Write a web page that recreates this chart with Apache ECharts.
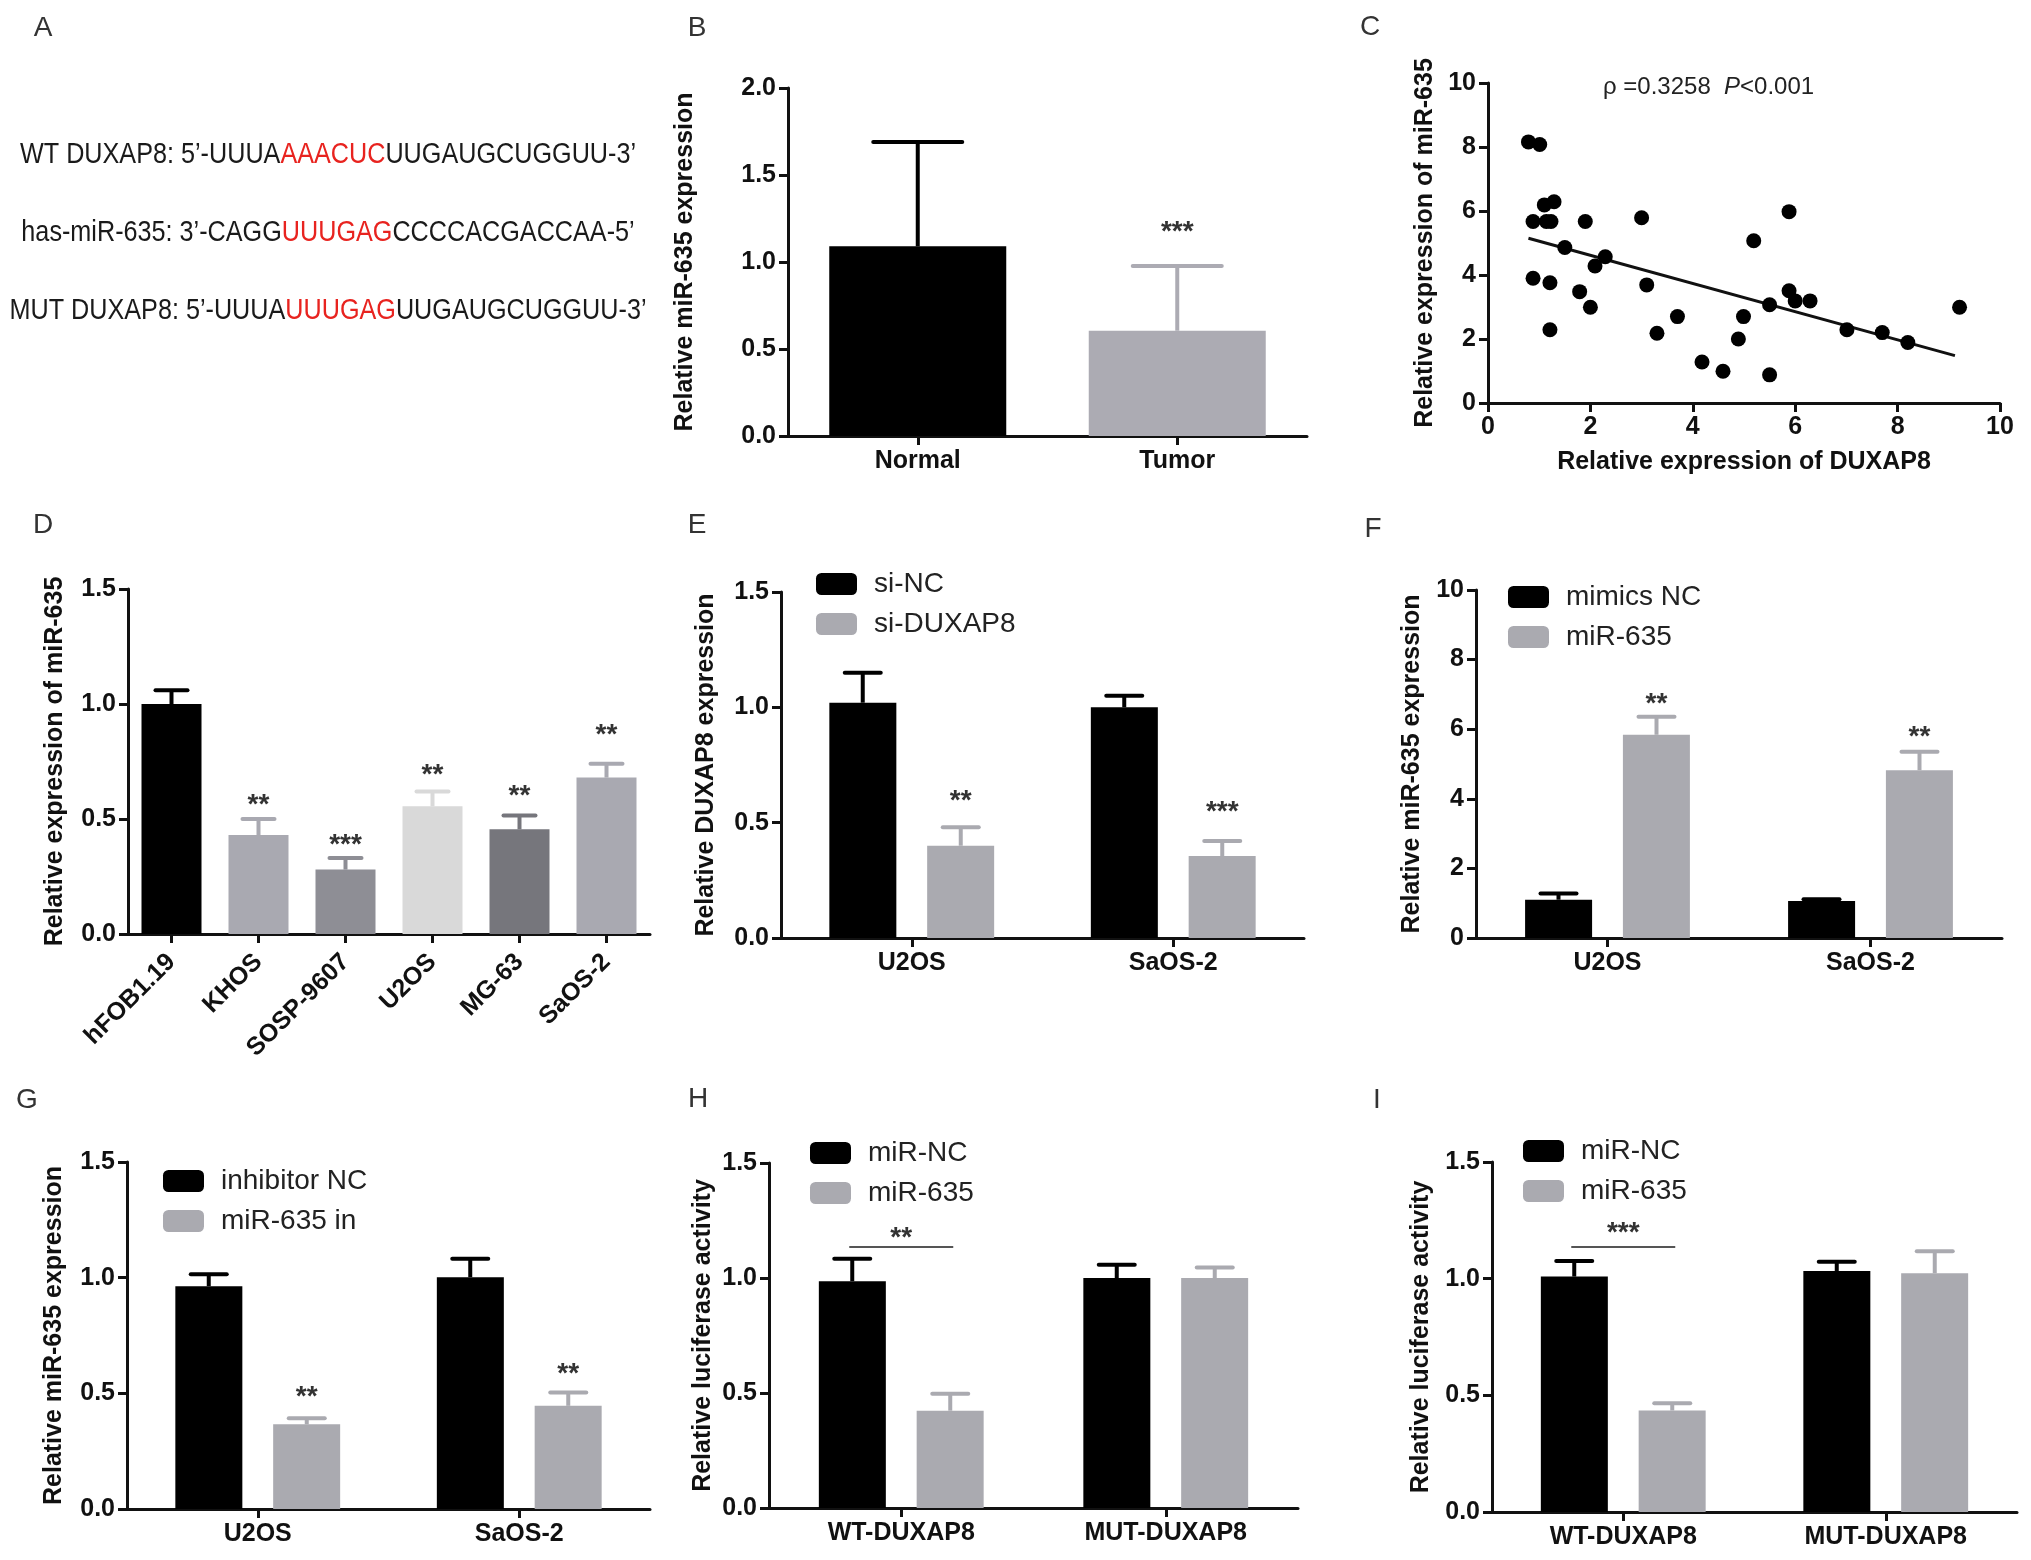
<!DOCTYPE html>
<html>
<head>
<meta charset="UTF-8">
<title>DUXAP8 / miR-635</title>
<script src="https://cdn.jsdelivr.net/npm/echarts@6.0.0/dist/echarts.min.js"></script>
<style>
    html, body { margin: 0; padding: 0; background: #ffffff; }
    #main { width: 2031px; height: 1560px; }
</style>
</head>
<body>
<div id="main"></div>
<script>
var FONT = '"Liberation Sans", Arial, Helvetica, sans-serif';
var INK = '#111111';
var BLACK = '#000000';
var GRAY = '#aaaab0';

// A: binding site sequences, [before, red part, after]
var seqLines = [
    ['WT DUXAP8: 5’-UUUA', 'AAACUC', 'UUGAUGCUGGUU-3’'],
    ['has-miR-635: 3’-CAGG', 'UUUGAG', 'CCCCACGACCAA-5’'],
    ['MUT DUXAP8: 5’-UUUA', 'UUUGAG', 'UUGAUGCUGGUU-3’']
];

// B: tissue
var bCats = ['Normal', 'Tumor'];
var bMean = [1.09, 0.605];
var bTop = [1.69, 0.977];
var bMarks = ['', '***'];
var bMarkAt = [null, 1.21];

// C: correlation
var cPoints = [
    [0.79, 8.16], [1.01, 8.08], [0.88, 5.67], [1.10, 6.19], [1.29, 6.29],
    [1.14, 5.67], [1.23, 5.67], [1.90, 5.67], [1.50, 4.86], [0.88, 3.90],
    [1.21, 3.76], [1.21, 2.29], [1.79, 3.48], [2.00, 2.99], [2.09, 4.28],
    [2.29, 4.57], [3.00, 5.79], [3.10, 3.69], [3.30, 2.18], [3.70, 2.70],
    [4.18, 1.28], [4.59, 0.99], [4.89, 2.00], [4.99, 2.70], [5.19, 5.07],
    [5.50, 3.07], [5.50, 0.88], [5.88, 5.98], [5.88, 3.51], [6.00, 3.19],
    [6.29, 3.19], [7.01, 2.29], [7.70, 2.20], [8.20, 1.89], [9.21, 2.99]
];
var cFit = [[0.79, 5.15], [9.12, 1.48]];
var cNote = ['ρ =0.3258  ', 'P', '<0.001'];

// D: cell lines
var dCats = ['hFOB1.19', 'KHOS', 'SOSP-9607', 'U2OS', 'MG-63', 'SaOS-2'];
var dMean = [1.00, 0.43, 0.28, 0.555, 0.455, 0.68];
var dTop = [1.06, 0.50, 0.33, 0.62, 0.515, 0.74];
var dMarks = ['', '**', '***', '**', '**', '**'];
var dMarkAt = [null, 0.59, 0.415, 0.72, 0.63, 0.895];
var dColors = ['#000000', '#a9a9b1', '#8e8e95', '#d9d9d9', '#76767c', '#a9a9b1'];

// E: knockdown
var cellCats = ['U2OS', 'SaOS-2'];
var eNames = ['si-NC', 'si-DUXAP8'];
var eMean = [[1.02, 1.00], [0.40, 0.355]];
var eTop = [[1.15, 1.05], [0.48, 0.42]];
var eMarks = ['**', '***'];
var eMarkAt = [0.625, 0.575];

// F: mimics
var fNames = ['mimics NC', 'miR-635'];
var fMean = [[1.10, 1.06], [5.84, 4.82]];
var fTop = [[1.28, 1.11], [6.36, 5.35]];
var fMarks = ['**', '**'];
var fMarkAt = [6.93, 5.97];

// G: inhibitor
var gNames = ['inhibitor NC', 'miR-635 in'];
var gMean = [[0.963, 1.002], [0.366, 0.446]];
var gTop = [[1.015, 1.082], [0.392, 0.504]];
var gMarks = ['**', '**'];
var gMarkAt = [0.514, 0.612];

// H, I: luciferase
var lucCats = ['WT-DUXAP8', 'MUT-DUXAP8'];
var lucNames = ['miR-NC', 'miR-635'];
var hMean = [[0.986, 1.00], [0.423, 1.00]];
var hTop = [[1.084, 1.058], [0.497, 1.046]];
var hSig = {cat: 0, level: 1.135, mark: '**', markAt: 1.203};
var iMean = [[1.009, 1.033], [0.435, 1.023]];
var iTop = [[1.076, 1.073], [0.466, 1.118]];
var iSig = {cat: 0, level: 1.136, mark: '***', markAt: 1.226};

var grids = [], xAxes = [], yAxes = [], series = [], legends = [], graphics = [];

function boldText(size) {
    return {color: INK, fontFamily: FONT, fontWeight: 'bold', fontSize: size};
}

function addGrid(left, top, width, height) {
    grids.push({left: left, top: top, width: width, height: height, outerBoundsMode: 'none', containLabel: false});
    return grids.length - 1;
}

function catAxis(gi, cats, rotate, margin) {
    var lbl = boldText(25);
    lbl.interval = 0;
    lbl.rotate = rotate || 0;
    lbl.margin = margin || 13;
    xAxes.push({
        type: 'category', gridIndex: gi, data: cats,
        axisLine: {show: true, lineStyle: {color: INK, width: 3}},
        axisTick: {show: true, alignWithLabel: true, length: 9, lineStyle: {color: INK, width: 3}},
        axisLabel: lbl
    });
}

function valAxis(list, gi, max, step, dec, name, gap) {
    var lbl = boldText(25);
    lbl.margin = 12;
    lbl.formatter = function (v) { return v.toFixed(dec); };
    list.push({
        type: 'value', gridIndex: gi, min: 0, max: max, interval: step,
        name: name, nameLocation: 'middle', nameGap: gap,
        nameTextStyle: boldText(25),
        axisLine: {show: true, lineStyle: {color: INK, width: 3}},
        axisTick: {show: true, length: 9, lineStyle: {color: INK, width: 3}},
        splitLine: {show: false},
        axisLabel: lbl
    });
}

function bars(gi, name, vals, colors, width, gap) {
    series.push({
        type: 'bar', name: name, xAxisIndex: gi, yAxisIndex: gi, z: 2, silent: true,
        barWidth: width, barGap: gap,
        itemStyle: {color: colors[0]},
        data: vals.map(function (v, i) {
            return {value: v, itemStyle: {color: colors[i % colors.length]}};
        })
    });
}

function errorBars(gi, means, tops, colors, shift, cap) {
    series.push({
        type: 'custom', xAxisIndex: gi, yAxisIndex: gi, z: 3, silent: true,
        data: means.map(function (m, i) { return [i, m, tops[i]]; }),
        renderItem: function (params, api) {
            var i = api.value(0);
            var a = api.coord([i, api.value(1)]);
            var b = api.coord([i, api.value(2)]);
            var x = a[0] + shift;
            var c = colors[i % colors.length];
            return {type: 'group', children: [
                {type: 'line', shape: {x1: x, y1: a[1], x2: x, y2: b[1]}, style: {stroke: c, lineWidth: 4}},
                {type: 'line', shape: {x1: x - cap / 2, y1: b[1], x2: x + cap / 2, y2: b[1]},
                    style: {stroke: c, lineWidth: 4, lineCap: 'round'}}
            ]};
        }
    });
}

function marks(gi, at, texts, shift) {
    var pts = [];
    texts.forEach(function (t, i) { if (t) pts.push({i: i, v: at[i], t: t}); });
    series.push({
        type: 'custom', xAxisIndex: gi, yAxisIndex: gi, z: 4, silent: true,
        data: pts.map(function (p) { return [p.i, p.v]; }),
        renderItem: function (params, api) {
            var p = api.coord([api.value(0), api.value(1)]);
            return {type: 'text', x: p[0] + shift, y: p[1] + 7, style: {
                text: pts[params.dataIndex].t, fill: '#333333', fontFamily: FONT, fontWeight: 'bold', fontSize: 28,
                align: 'center', verticalAlign: 'middle', textAlign: 'center', textVerticalAlign: 'middle'
            }};
        }
    });
}

function sigLine(gi, sig, half) {
    series.push({
        type: 'custom', xAxisIndex: gi, yAxisIndex: gi, z: 4, silent: true,
        data: [[sig.cat, sig.level, sig.markAt]],
        renderItem: function (params, api) {
            var p = api.coord([api.value(0), api.value(1)]);
            var q = api.coord([api.value(0), api.value(2)]);
            return {type: 'group', children: [
                {type: 'line', shape: {x1: p[0] - half, y1: p[1], x2: p[0] + half, y2: p[1]},
                    style: {stroke: '#555555', lineWidth: 2}},
                {type: 'text', x: p[0], y: q[1] + 7, style: {
                    text: sig.mark, fill: '#333333', fontFamily: FONT, fontWeight: 'bold', fontSize: 28,
                    align: 'center', verticalAlign: 'middle', textAlign: 'center', textVerticalAlign: 'middle'
                }}
            ]};
        }
    });
}

function legend(names, left, top) {
    legends.push({
        data: names, left: left, top: top, orient: 'vertical', padding: 0,
        itemGap: 12, itemWidth: 41, itemHeight: 22, icon: 'roundRect', selectedMode: false,
        textStyle: {color: '#222222', fontFamily: FONT, fontSize: 28, lineHeight: 28, padding: [0, 0, 0, 12]}
    });
}

// two-group bar panel (E, F, G, H, I)
function groupPanel(box, cats, names, means, tops, yMax, yStep, dec, yName, gap, legendPos) {
    var gi = addGrid(box[0], box[1], box[2], box[3]);
    catAxis(gi, cats);
    valAxis(yAxes, gi, yMax, yStep, dec, yName, gap);
    var bw = 67, half = 49;
    bars(gi, names[0], means[0], [BLACK], bw, '46%');
    bars(gi, names[1], means[1], [GRAY], bw, '46%');
    errorBars(gi, means[0], tops[0], [BLACK], -half, 36);
    errorBars(gi, means[1], tops[1], [GRAY], half, 36);
    legend(names, legendPos[0], legendPos[1]);
    return gi;
}

// B
var gB = addGrid(788, 88, 519, 348);
catAxis(gB, bCats);
valAxis(yAxes, gB, 2, 0.5, 1, 'Relative miR-635 expression', 90);
bars(gB, 'tissue', bMean, [BLACK, '#acabb3'], 177);
errorBars(gB, bMean, bTop, [BLACK, '#acabb3'], 0, 89);
marks(gB, bMarkAt, bMarks, 0);

// C
var gC = addGrid(1488, 83, 512, 320);
valAxis(xAxes, gC, 10, 2, 0, 'Relative expression of DUXAP8', 47);
valAxis(yAxes, gC, 10, 2, 0, 'Relative expression of miR-635', 50);
series.push({
    type: 'scatter', xAxisIndex: gC, yAxisIndex: gC, silent: true, z: 3,
    symbolSize: 15, itemStyle: {color: BLACK, opacity: 1}, data: cPoints
});
series.push({
    type: 'line', xAxisIndex: gC, yAxisIndex: gC, silent: true, z: 2,
    showSymbol: false, lineStyle: {color: INK, width: 3}, data: cFit
});

// D
var gD = addGrid(128, 589, 522, 345);
catAxis(gD, dCats, 45, 24);
valAxis(yAxes, gD, 1.5, 0.5, 1, 'Relative expression of miR-635', 60);
bars(gD, 'cells', dMean, dColors, 60);
errorBars(gD, dMean, dTop, dColors, 0, 32);
marks(gD, dMarkAt, dMarks, 0);

// E - I
var gE = groupPanel([781, 592, 523, 346], cellCats, eNames, eMean, eTop, 1.5, 0.5, 1,
    'Relative DUXAP8 expression', 62, [816, 570]);
marks(gE, eMarkAt, eMarks, 49);
var gF = groupPanel([1476, 590, 526, 348], cellCats, fNames, fMean, fTop, 10, 2, 0,
    'Relative miR-635 expression', 51, [1508, 583]);
marks(gF, fMarkAt, fMarks, 49);
var gG = groupPanel([127, 1162, 523, 347], cellCats, gNames, gMean, gTop, 1.5, 0.5, 1,
    'Relative miR-635 expression', 60, [163, 1167]);
marks(gG, gMarkAt, gMarks, 49);
var gH = groupPanel([769, 1163, 529, 345], lucCats, lucNames, hMean, hTop, 1.5, 0.5, 1,
    'Relative luciferase activity', 53, [810, 1139]);
sigLine(gH, hSig, 52);
var gI = groupPanel([1492, 1162, 525, 350], lucCats, lucNames, iMean, iTop, 1.5, 0.5, 1,
    'Relative luciferase activity', 58, [1523, 1137]);
sigLine(gI, iSig, 52);

// panel letters
var letters = [['A', 43, 28], ['B', 697, 28], ['C', 1370, 27], ['D', 43, 525], ['E', 697, 525],
    ['F', 1373, 529], ['G', 27, 1100], ['H', 698, 1099], ['I', 1377, 1100]];
letters.forEach(function (l) {
    graphics.push({type: 'text', x: l[1], y: l[2], style: {
        text: l[0], fill: '#333333', fontFamily: FONT, fontSize: 28,
        align: 'center', verticalAlign: 'middle', textAlign: 'center', textVerticalAlign: 'middle'
    }});
});

// A sequences
var seqY = [155, 233, 311];
seqLines.forEach(function (s, k) {
    var base = {fill: '#1a1a1a', fontFamily: FONT, fontSize: 30};
    var red = {fill: '#e8231f', fontFamily: FONT, fontSize: 30};
    graphics.push({type: 'text', x: 328, y: seqY[k], scaleX: 0.84, style: {
        text: '{n|' + s[0] + '}{r|' + s[1] + '}{n|' + s[2] + '}',
        rich: {n: base, r: red},
        align: 'center', verticalAlign: 'middle', textAlign: 'center', textVerticalAlign: 'middle'
    }});
});

// C annotation
graphics.push({type: 'text', x: 1603, y: 87, style: {
    text: '{n|' + cNote[0] + '}{i|' + cNote[1] + '}{n|' + cNote[2] + '}',
    rich: {
        n: {fill: '#222222', fontFamily: FONT, fontSize: 24},
        i: {fill: '#222222', fontFamily: FONT, fontSize: 24, fontStyle: 'italic'}
    },
    align: 'left', verticalAlign: 'middle', textAlign: 'left', textVerticalAlign: 'middle'
}});

var myChart = echarts.init(document.getElementById('main'), null, {renderer: 'canvas'});
myChart.setOption({
    backgroundColor: '#ffffff',
    animation: false,
    grid: grids,
    xAxis: xAxes,
    yAxis: yAxes,
    legend: legends,
    series: series,
    graphic: graphics
});
</script>
</body>
</html>
